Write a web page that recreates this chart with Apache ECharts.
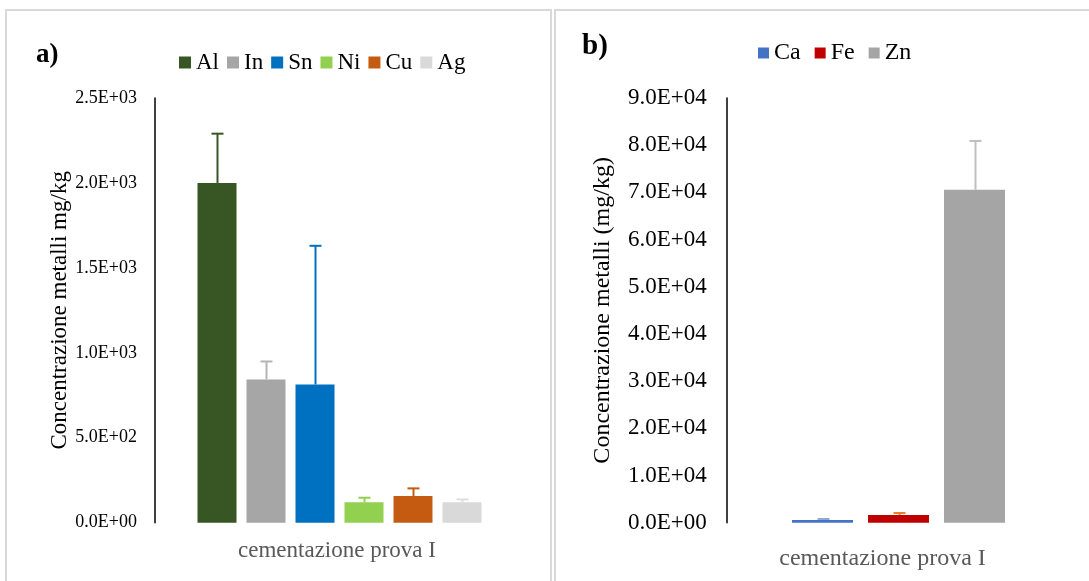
<!DOCTYPE html>
<html>
<head>
<meta charset="utf-8">
<script src="https://cdn.jsdelivr.net/npm/echarts@6/dist/echarts.min.js"></script>
<style>
  html, body { margin: 0; padding: 0; background: #ffffff; }
  #chart { width: 1089px; height: 581px; }
</style>
</head>
<body>
<div id="chart"></div>
<script>
// Category shared by both panels
const categories = ['cementazione prova I'];

// Panel a) – metal concentrations (mg/kg) with standard deviation
const metalsA = ['Al', 'In', 'Sn', 'Ni', 'Cu', 'Ag'];
const valuesA = [2000, 843, 814, 121, 157, 121];
const errorsA = [290, 106, 816, 26, 45, 16];
const ticksA = { min: 0, max: 2500, interval: 500 };

// Panel b) – metal concentrations (mg/kg) with standard deviation
const metalsB = ['Ca', 'Fe', 'Zn'];
const valuesB = [570, 1630, 70550];
const errorsB = [210, 420, 10350];
const ticksB = { min: 0, max: 90000, interval: 10000 };

// Palettes
const barColorsA = ['#375623', '#a6a6a6', '#0070c0', '#92d050', '#c55a11', '#d9d9d9'];
const errColorsA = ['#375623', '#b4b4b4', '#0070c0', '#92d050', '#c55a11', '#dedede'];
const barColorsB = ['#4472c4', '#c00000', '#a5a5a5'];
const errColorsB = ['#8eaadb', '#ed7d31', '#bfbfbf'];

const SERIF = "'Liberation Serif', 'Times New Roman', serif";

// Scientific labels like 2.5E+03
function sci(v) {
  if (v === 0) return '0.0E+00';
  const e = Math.floor(Math.log10(Math.abs(v)) + 1e-9);
  const m = (v / Math.pow(10, e)).toFixed(1);
  const s = e < 0 ? '-' : '+';
  const ae = Math.abs(e);
  return m + 'E' + s + (ae < 10 ? '0' + ae : String(ae));
}

const BAR_A = 39, GAP_A = 10;
const BAR_B = 61, GAP_B = 15;

function barSeries(names, values, colors, axisIdx, width, gap) {
  return names.map((n, i) => ({
    name: n,
    type: 'bar',
    xAxisIndex: axisIdx,
    yAxisIndex: axisIdx,
    barWidth: width,
    barGap: (gap / width * 100).toFixed(2) + '%',
    itemStyle: { color: colors[i] },
    data: [values[i]],
    z: 2
  }));
}

// Error bars drawn beside each bar of the grouped category
function errorSeries(values, errors, colors, axisIdx, width, gap, capW) {
  const n = values.length;
  const step = width + gap;
  return {
    type: 'custom',
    xAxisIndex: axisIdx,
    yAxisIndex: axisIdx,
    z: 3,
    silent: true,
    data: values.map((v, i) => [0, v, v + errors[i], i]),
    renderItem: function (params, api) {
      const i = api.value(3);
      const base = api.coord([api.value(0), api.value(1)]);
      const top = api.coord([api.value(0), api.value(2)]);
      const x = Math.round(base[0] + (i - (n - 1) / 2) * step) + 0.5;
      const color = colors[i];
      return {
        type: 'group',
        children: [
          { type: 'line', shape: { x1: x, y1: base[1], x2: x, y2: top[1] },
            style: { stroke: color, lineWidth: 2 } },
          { type: 'line', shape: { x1: x - capW / 2, y1: top[1], x2: x + capW / 2, y2: top[1] },
            style: { stroke: color, lineWidth: 2 } }
        ]
      };
    }
  };
}

const chart = echarts.init(document.getElementById('chart'), null, { renderer: 'canvas' });

const option = {
  backgroundColor: '#ffffff',
  animation: false,
  graphic: [
    { type: 'rect', shape: { x: 6, y: 10, width: 545, height: 590 },
      style: { fill: 'none', stroke: '#d9d9d9', lineWidth: 2 }, z: -1 },
    { type: 'rect', shape: { x: 555, y: 10, width: 545, height: 590 },
      style: { fill: 'none', stroke: '#d9d9d9', lineWidth: 2 }, z: -1 },
    { type: 'text', x: 36, y: 55,
      style: { text: 'a)', font: 'bold 27px ' + SERIF, fill: '#000', verticalAlign: 'middle' } },
    { type: 'text', x: 582, y: 47,
      style: { text: 'b)', font: 'bold 29px ' + SERIF, fill: '#000', verticalAlign: 'middle' } }
  ],
  legend: [
    {
      data: metalsA,
      left: 174, top: 46,
      itemWidth: 12, itemHeight: 12, itemGap: 8,
      icon: 'rect',
      textStyle: { fontFamily: SERIF, fontSize: 23, color: '#000' }
    },
    {
      data: metalsB,
      left: 753, top: 36,
      itemWidth: 11, itemHeight: 11, itemGap: 14,
      icon: 'rect',
      textStyle: { fontFamily: SERIF, fontSize: 24, color: '#000' }
    }
  ],
  grid: [
    { left: 155, top: 98, width: 369, height: 424.7 },
    { left: 726.7, top: 98, width: 343.6, height: 424.7 }
  ],
  xAxis: [
    {
      type: 'category', gridIndex: 0, data: categories,
      axisLine: { show: false }, axisTick: { show: false },
      axisLabel: { margin: 17, padding: [0, 5, 0, 0], fontFamily: SERIF, fontSize: 23, color: '#595959' }
    },
    {
      type: 'category', gridIndex: 1, data: categories,
      axisLine: { show: false }, axisTick: { show: false },
      axisLabel: { margin: 24, padding: [0, 32, 0, 0], fontFamily: SERIF, fontSize: 24, color: '#595959' }
    }
  ],
  yAxis: [
    {
      type: 'value', gridIndex: 0,
      min: ticksA.min, max: ticksA.max, interval: ticksA.interval,
      name: 'Concentrazione metalli mg/kg',
      nameLocation: 'middle', nameGap: 83,
      nameTextStyle: { fontFamily: SERIF, fontSize: 23, color: '#000' },
      axisLine: { show: true, lineStyle: { color: '#000', width: 1.5 } },
      axisTick: { show: false },
      splitLine: { show: false },
      axisLabel: { margin: 18, formatter: sci, fontFamily: SERIF, fontSize: 18, color: '#000' }
    },
    {
      type: 'value', gridIndex: 1,
      min: ticksB.min, max: ticksB.max, interval: ticksB.interval,
      name: 'Concentrazione metalli (mg/kg)',
      nameLocation: 'middle', nameGap: 112,
      nameTextStyle: { fontFamily: SERIF, fontSize: 24, color: '#000' },
      axisLine: { show: true, lineStyle: { color: '#000', width: 1.5 } },
      axisTick: { show: false },
      splitLine: { show: false },
      axisLabel: { margin: 20, formatter: sci, fontFamily: SERIF, fontSize: 23, color: '#000' }
    }
  ],
  series: [
    ...barSeries(metalsA, valuesA, barColorsA, 0, BAR_A, GAP_A),
    ...barSeries(metalsB, valuesB, barColorsB, 1, BAR_B, GAP_B),
    errorSeries(valuesA, errorsA, errColorsA, 0, BAR_A, GAP_A, 12),
    errorSeries(valuesB, errorsB, errColorsB, 1, BAR_B, GAP_B, 12)
  ]
};

chart.setOption(option);
</script>
</body>
</html>
